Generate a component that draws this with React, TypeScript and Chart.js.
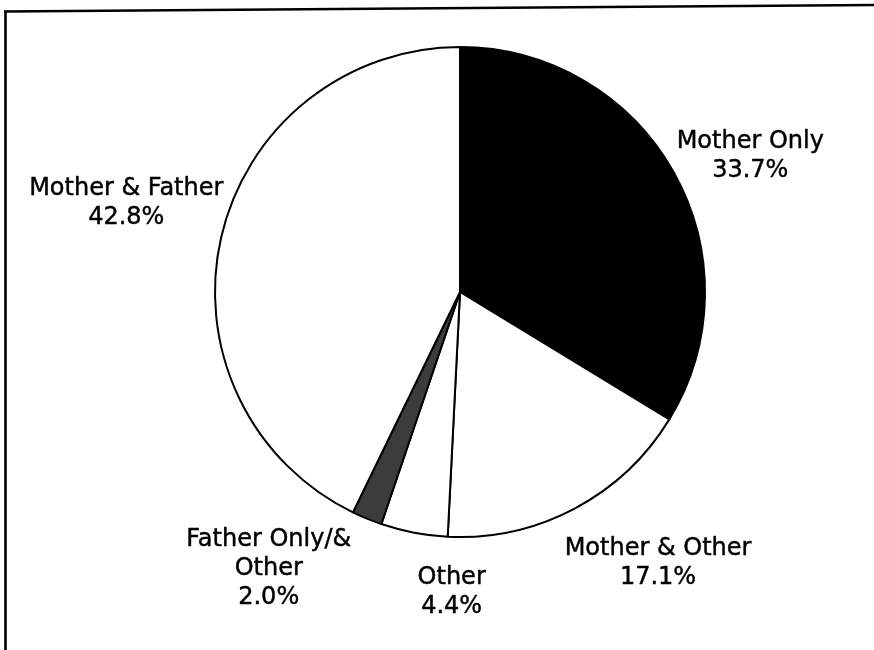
import React, { useEffect, useRef } from "react";
import { Chart, registerables } from "chart.js";

Chart.register(...registerables);

// ---- data ----
const categories: string[] = [
  "Mother Only",
  "Mother & Other",
  "Other",
  "Father Only/& Other",
  "Mother & Father",
];
const categoryLines: string[][] = [
  ["Mother Only"],
  ["Mother & Other"],
  ["Other"],
  ["Father Only/&", "Other"],
  ["Mother & Father"],
];
const shares: number[] = [33.7, 17.1, 4.4, 2.0, 42.8];

// ---- styling (kept separate from data) ----
const sliceColors = ["#000000", "#ffffff", "#ffffff", "#3c3c3c", "#ffffff"];
const labelRadiusFactor = [1.312, 1.362, 1.2175, 1.364, 1.412];
const labelAngleShiftDeg = [3.9, -8.5, -9.2, 12.6, 2.3];
const FONT = '24px "DejaVu Sans", Verdana, sans-serif';
const LINE_H = 29;
const CAP_H = 17.5;

const framePlugin = {
  id: "frameAndBg",
  beforeDraw(chart: any) {
    const ctx = chart.ctx as CanvasRenderingContext2D;
    ctx.save();
    ctx.fillStyle = "#ffffff";
    ctx.fillRect(0, 0, chart.width, chart.height);
    ctx.strokeStyle = "#000000";
    ctx.lineWidth = 2.6;
    ctx.beginPath();
    ctx.moveTo(4, 11.5);
    ctx.lineTo(chart.width, 5);
    ctx.moveTo(5.5, 10.5);
    ctx.lineTo(5.5, chart.height);
    ctx.stroke();
    ctx.restore();
  },
};

const labelPlugin = {
  id: "sliceLabels",
  afterDatasetsDraw(chart: any) {
    const ctx = chart.ctx as CanvasRenderingContext2D;
    const meta = chart.getDatasetMeta(0);
    ctx.save();
    ctx.font = FONT;
    ctx.fillStyle = "#000000";
    ctx.strokeStyle = "#000000";
    ctx.lineWidth = 0.45;
    ctx.lineJoin = "round";
    ctx.textAlign = "center";
    ctx.textBaseline = "alphabetic";
    meta.data.forEach((arc: any, i: number) => {
      const p = arc.getProps(["x", "y", "startAngle", "endAngle", "outerRadius"], true);
      const mid = (p.startAngle + p.endAngle) / 2 + (labelAngleShiftDeg[i] * Math.PI) / 180;
      const r = p.outerRadius * labelRadiusFactor[i];
      const cx = p.x + Math.cos(mid) * r;
      const cy = p.y + Math.sin(mid) * r;
      const lines = [...categoryLines[i], shares[i].toFixed(1) + "%"];
      const n = lines.length;
      const blockH = (n - 1) * LINE_H + CAP_H;
      const lastBase = cy + blockH / 2;
      lines.forEach((t, k) => {
        const y = lastBase - (n - 1 - k) * LINE_H;
        ctx.fillText(t, cx, y);
        ctx.strokeText(t, cx, y);
      });
    });
    ctx.restore();
  },
};

export default function App() {
  const ref = useRef<HTMLCanvasElement | null>(null);
  useEffect(() => {
    if (!ref.current) return;
    const chart = new Chart(ref.current, {
      type: "pie",
      data: {
        labels: categories,
        datasets: [
          {
            data: shares,
            backgroundColor: sliceColors,
            borderColor: "#000000",
            borderWidth: 2,
          },
        ],
      },
      options: {
        responsive: false,
        animation: false,
        devicePixelRatio: 1,
        layout: { padding: { left: 214, right: 168, top: 46, bottom: 112 } },
        plugins: {
          legend: { display: false },
          tooltip: { enabled: false },
        },
      },
      plugins: [framePlugin, labelPlugin],
    });
    return () => chart.destroy();
  }, []);
  return (
    <div style={{ position: "absolute", left: 0, top: 0, width: 874, height: 650, background: "#fff" }}>
      <canvas ref={ref} width={874} height={650} style={{ display: "block" }} />
    </div>
  );
}
